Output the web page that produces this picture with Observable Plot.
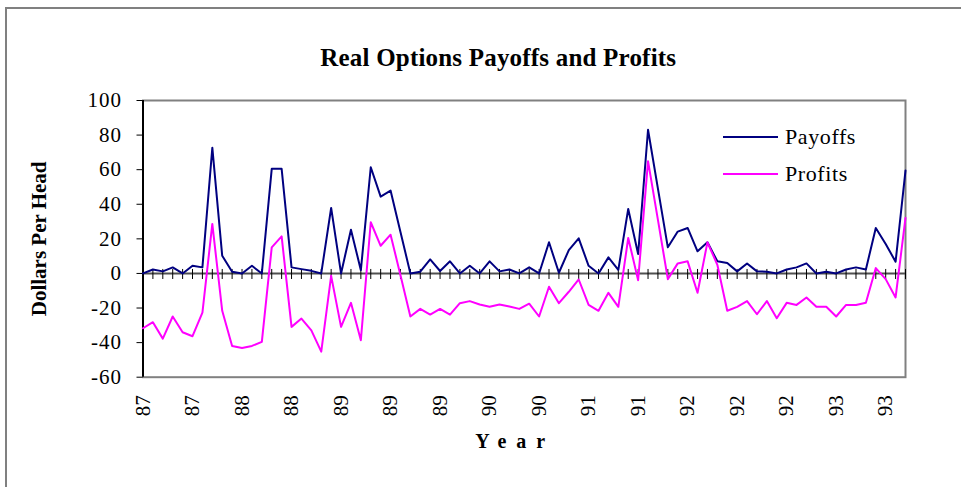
<!DOCTYPE html>
<html><head><meta charset="utf-8">
<script src="https://cdn.jsdelivr.net/npm/d3@7"></script>
<script src="https://cdn.jsdelivr.net/npm/@observablehq/plot@0.6"></script>
<style>
body{margin:0;background:#fff;overflow:hidden;}
#wrap{position:relative;width:961px;height:487px;overflow:hidden;font-family:"Liberation Serif","Times New Roman",serif;}
#border{position:absolute;left:5px;top:7px;width:1200px;height:800px;border-left:2px solid #808080;border-top:2px solid #808080;}
#chart{position:absolute;left:0;top:0;}
.leg{position:absolute;left:723px;height:30px;font-size:22px;color:#000;letter-spacing:0.6px;}
.leg span.sw{position:absolute;left:0;top:14px;width:55px;height:2px;}
.leg span.tx{position:absolute;left:62px;top:0;line-height:30px;white-space:nowrap;}
</style></head>
<body><div id="wrap"><div id="border"></div><div id="chart"></div>
<div class="leg" style="top:122px"><span class="sw" style="background:#000080"></span><span class="tx">Payoffs</span></div>
<div class="leg" style="top:159px"><span class="sw" style="background:#ff00ff"></span><span class="tx">Profits</span></div>
</div>
<script>
const seriesNames = ["Payoffs", "Profits"];
const payoffs = [0, 2.3, 1.2, 3.5, 0, 4.4, 3.5, 72.7, 10.2, 1, 0, 4.4, 0, 60.5, 60.5, 3.5, 2.5, 1.5, 0, 37.9,
  0, 25.3, 1.9, 61.4, 44.4, 47.9, 24, 0, 1, 8.1, 1.4, 7, 0, 4.4, 0, 7, 1.2, 2.3, 0, 3.5,
  0, 18, 0.4, 13.5, 20.3, 4.4, 0, 9.3, 2.1, 37.3, 11.2, 83.1, 49, 15.1, 24.2, 26.3, 12.8, 18, 7, 6,
  1.2, 5.8, 1.2, 1, 0, 2.3, 3.5, 5.8, 0, 1, 0, 2.3, 3.5, 2.3, 26.3, 17, 6.8, 59.5];
const profits = [-31.7, -28.2, -37.7, -24.9, -34, -36.3, -22.6, 28.6, -21.6, -41.9, -43.1, -41.9, -39.6, 15.1, 21.4, -30.9, -26.1, -32.9, -45.2, -1.4,
  -30.9, -17, -38.6, 29.6, 16, 22.4, -1, -24.9, -20.5, -23.8, -20.5, -23.8, -17.2, -16, -18, -19.3, -18, -19.1, -20.5, -17.5,
  -24.9, -7.7, -17.2, -10.6, -3.5, -18.2, -21.6, -11.2, -19.3, 20.5, -3.9, 64.9, 31, -3.3, 5.8, 7, -11.2, 18, 5, -21.6,
  -19.3, -16, -23.6, -16, -25.9, -17, -18.2, -13.9, -19.3, -19.3, -24.9, -18.2, -18.2, -17, 3.1, -3.3, -13.9, 32.1];
const xLabels = ["87","87","88","88","89","89","89","90","90","91","91","92","92","92","93","93"];
const labelEvery = 5;
const yTicks = [-60, -40, -20, 0, 20, 40, 60, 80, 100];
const title = "Real Options Payoffs and Profits";
const xTitle = "Year";
const yTitle = "Dollars Per Head";

const n = payoffs.length;
const idx = d3.range(n);
const labelIdx = xLabels.map((d, i) => i * labelEvery);

const chart = Plot.plot({
  width: 961, height: 487,
  marginLeft: 142.5, marginRight: 56, marginTop: 100, marginBottom: 110.3,
  x: {domain: [0, n - 1], axis: null},
  y: {domain: [-60, 100], axis: null},
  style: {fontFamily: "'Liberation Serif', 'Times New Roman', serif", background: "transparent", color: "black", overflow: "visible"},
  marks: [
    Plot.frame({stroke: "#808080", strokeWidth: 2}),
    Plot.axisY(yTicks, {tickSize: 6, tickPadding: 15, fontSize: 21, tickFormat: d => String(d), label: null}),
    Plot.ruleY([0], {stroke: "#505050", strokeWidth: 2}),
    Plot.ruleX(idx, {x: d => d, y1: 2.3, y2: -3.5, stroke: "black", strokeWidth: 1}),
    Plot.ruleX([0], {stroke: "black", strokeWidth: 2}),
    Plot.line(payoffs, {x: (d, i) => i, y: d => d, stroke: "#000080", strokeWidth: 2}),
    Plot.line(profits, {x: (d, i) => i, y: d => d, stroke: "#ff00ff", strokeWidth: 2}),
    Plot.text(labelIdx, {x: d => d, text: (d, i) => xLabels[i], frameAnchor: "bottom", rotate: -90, textAnchor: "end", lineAnchor: "middle", dy: 18, fontSize: 21}),
    Plot.text([title], {frameAnchor: "top", lineAnchor: "middle", textAnchor: "middle", dy: -43, dx: -26, fontSize: 25, fontWeight: "bold"}),
    Plot.text([xTitle], {frameAnchor: "bottom", lineAnchor: "middle", textAnchor: "middle", dy: 64, dx: -9, fontSize: 20, fontWeight: "bold"}),
    Plot.text([yTitle], {frameAnchor: "left", lineAnchor: "middle", textAnchor: "middle", dx: -104, rotate: -90, fontSize: 21, fontWeight: "bold"})
  ]
});
document.getElementById("chart").appendChild(chart);
chart.querySelectorAll("text").forEach(t => {
  const s = t.textContent;
  if (s === xTitle) t.setAttribute("letter-spacing", "10");
  else if (s === title) t.setAttribute("letter-spacing", "0.2");
  else if (yTicks.map(String).includes(s)) t.setAttribute("letter-spacing", "1");
});
</script>
</body></html>
